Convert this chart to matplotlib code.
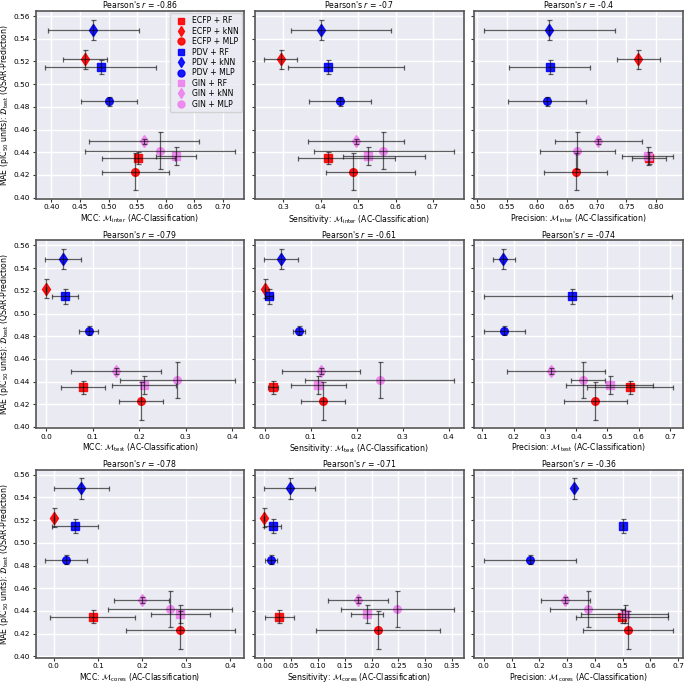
import numpy as np
import matplotlib
matplotlib.use("Agg")
import matplotlib.pyplot as plt
from matplotlib.lines import Line2D
from matplotlib.ticker import MultipleLocator, FormatStrFormatter

nan = np.nan

# methods: ECFP/PDV/GIN x RF/kNN/MLP
methods = ["ECFP + RF", "ECFP + kNN", "ECFP + MLP",
           "PDV + RF", "PDV + kNN", "PDV + MLP",
           "GIN + RF", "GIN + kNN", "GIN + MLP"]
colors = ["red", "red", "red", "blue", "blue", "blue", "violet", "violet", "violet"]
markers = ["s", "d", "o", "s", "d", "o", "s", "d", "o"]

# y: MAE on test set (shared by all panels)
mae = [0.435, 0.522, 0.423, 0.515, 0.548, 0.485, 0.437, 0.4495, 0.4415]
mae_err = [0.0056, 0.0083, 0.0166, 0.0064, 0.009, 0.004, 0.0078, 0.0024, 0.016]

# x values, lower and upper error, per panel
mcc_inter = [0.552, 0.459, 0.547, 0.486, 0.4735, 0.500, 0.618, 0.5625, 0.590]
mcc_inter_lo = [0.064, 0.038, 0.058, 0.097, 0.080, 0.049, 0.035, 0.096, 0.131]
mcc_inter_hi = mcc_inter_lo

sens_inter = [0.4186, 0.293, 0.485, 0.419, 0.400, 0.4504, 0.525, 0.493, 0.567]
sens_inter_lo = [0.079, 0.044, 0.072, 0.108, 0.081, 0.081, 0.066, 0.128, 0.186]
sens_inter_hi = [0.180, 0.044, 0.167, 0.205, 0.188, 0.083, 0.154, 0.129, 0.190]

prec_inter = [0.788, 0.770, 0.665, 0.6216, 0.6205, 0.617, 0.786, 0.703, 0.668]
prec_inter_lo = [0.029, 0.036, 0.053, 0.068, 0.110, 0.065, 0.043, 0.073, 0.063]
prec_inter_hi = prec_inter_lo

mcc_test = [0.079, 0.0, 0.204, 0.040, 0.0364, 0.091, 0.2097, 0.150, 0.2825]
mcc_test_lo = [0.047, 0.0, 0.048, 0.028, 0.039, 0.021, 0.069, 0.097, 0.124]
mcc_test_hi = mcc_test_lo

sens_test = [0.018, 0.0, 0.1264, 0.0093, 0.0366, 0.074, 0.117, 0.122, 0.250]
sens_test_lo = [0.0115, 0.0, 0.048, 0.008, 0.037, 0.013, 0.060, 0.085, 0.162]
sens_test_hi = sens_test_lo

prec_test = [0.572, nan, 0.461, 0.386, 0.165, 0.169, 0.507, 0.319, 0.423]
prec_test_lo = [0.139, nan, 0.100, 0.280, 0.030, 0.065, 0.139, 0.141, 0.039]
prec_test_hi = [0.139, nan, 0.100, 0.320, 0.040, 0.068, 0.140, 0.174, 0.070]

mcc_cores = [0.088, 0.0, 0.287, 0.047, 0.0624, 0.028, 0.287, 0.199, 0.263]
mcc_cores_lo = [0.096, 0.0, 0.124, 0.052, 0.0625, 0.048, 0.067, 0.063, 0.141]
mcc_cores_hi = mcc_cores_lo

sens_cores = [0.0278, 0.0, 0.2117, 0.0154, 0.047, 0.0123, 0.191, 0.174, 0.248]
sens_cores_lo = [0.0275, 0.0, 0.115, 0.0155, 0.047, 0.012, 0.030, 0.056, 0.106]
sens_cores_hi = sens_cores_lo

prec_cores = [0.497, nan, 0.520, 0.500, 0.324, 0.166, 0.507, 0.294, 0.374]
prec_cores_lo = [0.165, nan, 0.163, 0.0, 0.0, 0.167, 0.157, 0.087, 0.135]
prec_cores_hi = prec_cores_lo

pearson = [["-0.86", "-0.7", "-0.4"],
           ["-0.79", "-0.61", "-0.74"],
           ["-0.78", "-0.71", "-0.36"]]
subsets = ["inter", "test", "cores"]
metric_names = ["MCC", "Sensitivity", "Precision"]
tick_steps = [[0.05, 0.1, 0.05], [0.1, 0.1, 0.1], [0.1, 0.05, 0.1]]

panels = [[(mcc_inter, mcc_inter_lo, mcc_inter_hi),
           (sens_inter, sens_inter_lo, sens_inter_hi),
           (prec_inter, prec_inter_lo, prec_inter_hi)],
          [(mcc_test, mcc_test_lo, mcc_test_hi),
           (sens_test, sens_test_lo, sens_test_hi),
           (prec_test, prec_test_lo, prec_test_hi)],
          [(mcc_cores, mcc_cores_lo, mcc_cores_hi),
           (sens_cores, sens_cores_lo, sens_cores_hi),
           (prec_cores, prec_cores_lo, prec_cores_hi)]]

fs = 5.6

fig, axes = plt.subplots(3, 3, figsize=(6.85, 6.85), dpi=100, sharey=True)
fig.subplots_adjust(left=0.052, right=0.997, bottom=0.04, top=0.984,
                    wspace=0.05, hspace=0.22)

for i in range(3):
    for j in range(3):
        ax = axes[i, j]
        xs, lo, hi = panels[i][j]
        ax.set_facecolor("#eaeaf2")
        ax.grid(True, color="white", linewidth=1)
        ax.set_axisbelow(True)
        for s in ax.spines.values():
            s.set_color("#555555")
            s.set_linewidth(1.2)
        for k in range(len(methods)):
            ms = 6 if markers[k] == "d" else 5.5
            ax.plot(xs[k], mae[k], marker=markers[k], color=colors[k], ms=ms,
                    alpha=0.9, linestyle="none", zorder=3)
            ax.errorbar(xs[k], mae[k], xerr=[[lo[k]], [hi[k]]], yerr=mae_err[k],
                        fmt="none", ecolor="black", elinewidth=0.9, capsize=1.8,
                        capthick=0.9, alpha=0.6, zorder=4)
        step = tick_steps[i][j]
        ax.xaxis.set_major_locator(MultipleLocator(step))
        ax.xaxis.set_major_formatter(FormatStrFormatter("%.2f" if step == 0.05 else "%.1f"))
        ax.set_title("Pearson's $r$ = " + pearson[i][j], fontsize=fs, pad=2)
        ax.set_xlabel(metric_names[j] + r": $\mathcal{M}_{\mathrm{" + subsets[i] + "}}$ (AC-Classification)",
                      fontsize=fs, labelpad=1.5)
        ax.tick_params(labelsize=fs - 0.3, length=2.5, width=0.8, color="#333333", pad=1.5)
        if j == 0:
            ax.set_ylabel(r"MAE (pIC$_{50}$ units): $\mathcal{D}_{\mathrm{test}}$ (QSAR-Prediction)",
                          fontsize=fs, labelpad=1.5)

axes[0, 0].set_yticks(np.arange(0.40, 0.561, 0.02))
axes[0, 0].yaxis.set_major_formatter(FormatStrFormatter("%.2f"))

handles = [Line2D([], [], marker=markers[k], color=colors[k], linestyle="none",
                  ms=5, alpha=0.9) for k in range(len(methods))]
axes[0, 0].legend(handles, methods, loc="upper right", fontsize=fs, frameon=True,
                  borderpad=0.4, labelspacing=0.18, handletextpad=0.5, borderaxespad=0.3,
                  facecolor="#eaeaf2", edgecolor="#cccccc")

fig.savefig("out.png", dpi=100)
